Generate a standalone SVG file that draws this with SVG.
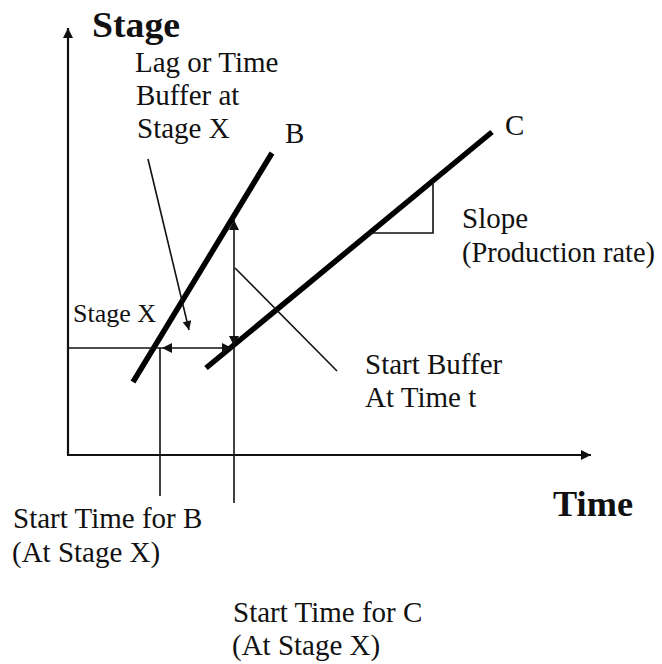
<svg xmlns="http://www.w3.org/2000/svg" width="662" height="664" viewBox="0 0 662 664">
<style>
.t { font-family: "Liberation Serif", "Times New Roman", "DejaVu Serif", serif; font-size: 29px; font-weight: normal; fill: #111; }
.b { font-family: "Liberation Serif", "Times New Roman", "DejaVu Serif", serif; font-size: 36px; font-weight: bold; fill: #111; }
.thin { stroke: #111; stroke-width: 1.6; fill: none; }
.axis { stroke: #111; stroke-width: 2.2; fill: none; }
.thick { stroke: #000; stroke-width: 5.5; fill: none; stroke-linecap: butt; }
</style>
<defs>
<marker id="ah" viewBox="0 0 10 10" refX="10" refY="5" markerWidth="12" markerHeight="10" markerUnits="userSpaceOnUse" orient="auto">
<path d="M0,0 L10,5 L0,10 z" fill="#111"/>
</marker>
<marker id="ahs" viewBox="0 0 10 10" refX="10" refY="5" markerWidth="10" markerHeight="9" markerUnits="userSpaceOnUse" orient="auto">
<path d="M0,0 L10,5 L0,10 z" fill="#111"/>
</marker>
<marker id="ahr" viewBox="0 0 10 10" refX="0" refY="5" markerWidth="12" markerHeight="10" markerUnits="userSpaceOnUse" orient="auto">
<path d="M10,0 L0,5 L10,10 z" fill="#111"/>
</marker>
</defs>
<rect width="662" height="664" fill="#fff"/>

<g id="axes">
<line class="axis" x1="68" y1="455" x2="68" y2="28" marker-end="url(#ah)"/>
<line class="axis" x1="67" y1="455" x2="591" y2="455" marker-end="url(#ah)"/>
<text class="b" x="92" y="37" textLength="88" lengthAdjust="spacingAndGlyphs">Stage</text>
<text class="b" x="553" y="516" textLength="80" lengthAdjust="spacingAndGlyphs">Time</text>
</g>

<g id="lineB">
<line class="thick" x1="133" y1="382" x2="272" y2="153"/>
<text class="t" x="285" y="143" font-family="Liberation Serif, serif">B</text>
</g>

<g id="lineC">
<line class="thick" x1="206" y1="368" x2="492" y2="132"/>
<text class="t" x="505" y="135">C</text>
</g>

<g id="slope">
<polyline class="thin" points="370,233 433,233 433,182"/>
<text class="t" x="462" y="228">Slope</text>
<text class="t" x="462" y="262" textLength="193" lengthAdjust="spacingAndGlyphs">(Production rate)</text>
</g>

<g id="connectors">
<line class="thin" x1="68" y1="348" x2="162" y2="348"/>
<line class="thin" x1="162" y1="348" x2="232" y2="348" marker-start="url(#ahr)" marker-end="url(#ah)"/>
<line class="thin" x1="160" y1="348" x2="160" y2="496"/>
<line class="thin" x1="234" y1="220" x2="234" y2="346" marker-start="url(#ahr)" marker-end="url(#ah)"/>
<line class="thin" x1="234" y1="346" x2="234" y2="503"/>
<line class="thin" x1="148" y1="159" x2="189" y2="330" marker-end="url(#ahs)"/>
<line class="thin" x1="235" y1="268" x2="337" y2="371"/>
</g>

<g id="lagLabel">
<text class="t" x="135" y="72">Lag or Time</text>
<text class="t" x="136" y="105">Buffer at</text>
<text class="t" x="137" y="138">Stage X</text>
</g>

<g id="stageX">
<text class="t" x="73" y="322" style="font-size:26px">Stage X</text>
</g>

<g id="startBuffer">
<text class="t" x="365" y="374">Start Buffer</text>
<text class="t" x="365" y="407">At Time t</text>
</g>

<g id="startB">
<text class="t" x="13" y="528">Start Time for B</text>
<text class="t" x="12" y="562">(At Stage X)</text>
</g>

<g id="startC">
<text class="t" x="233" y="622">Start Time for C</text>
<text class="t" x="232" y="655">(At Stage X)</text>
</g>
</svg>
